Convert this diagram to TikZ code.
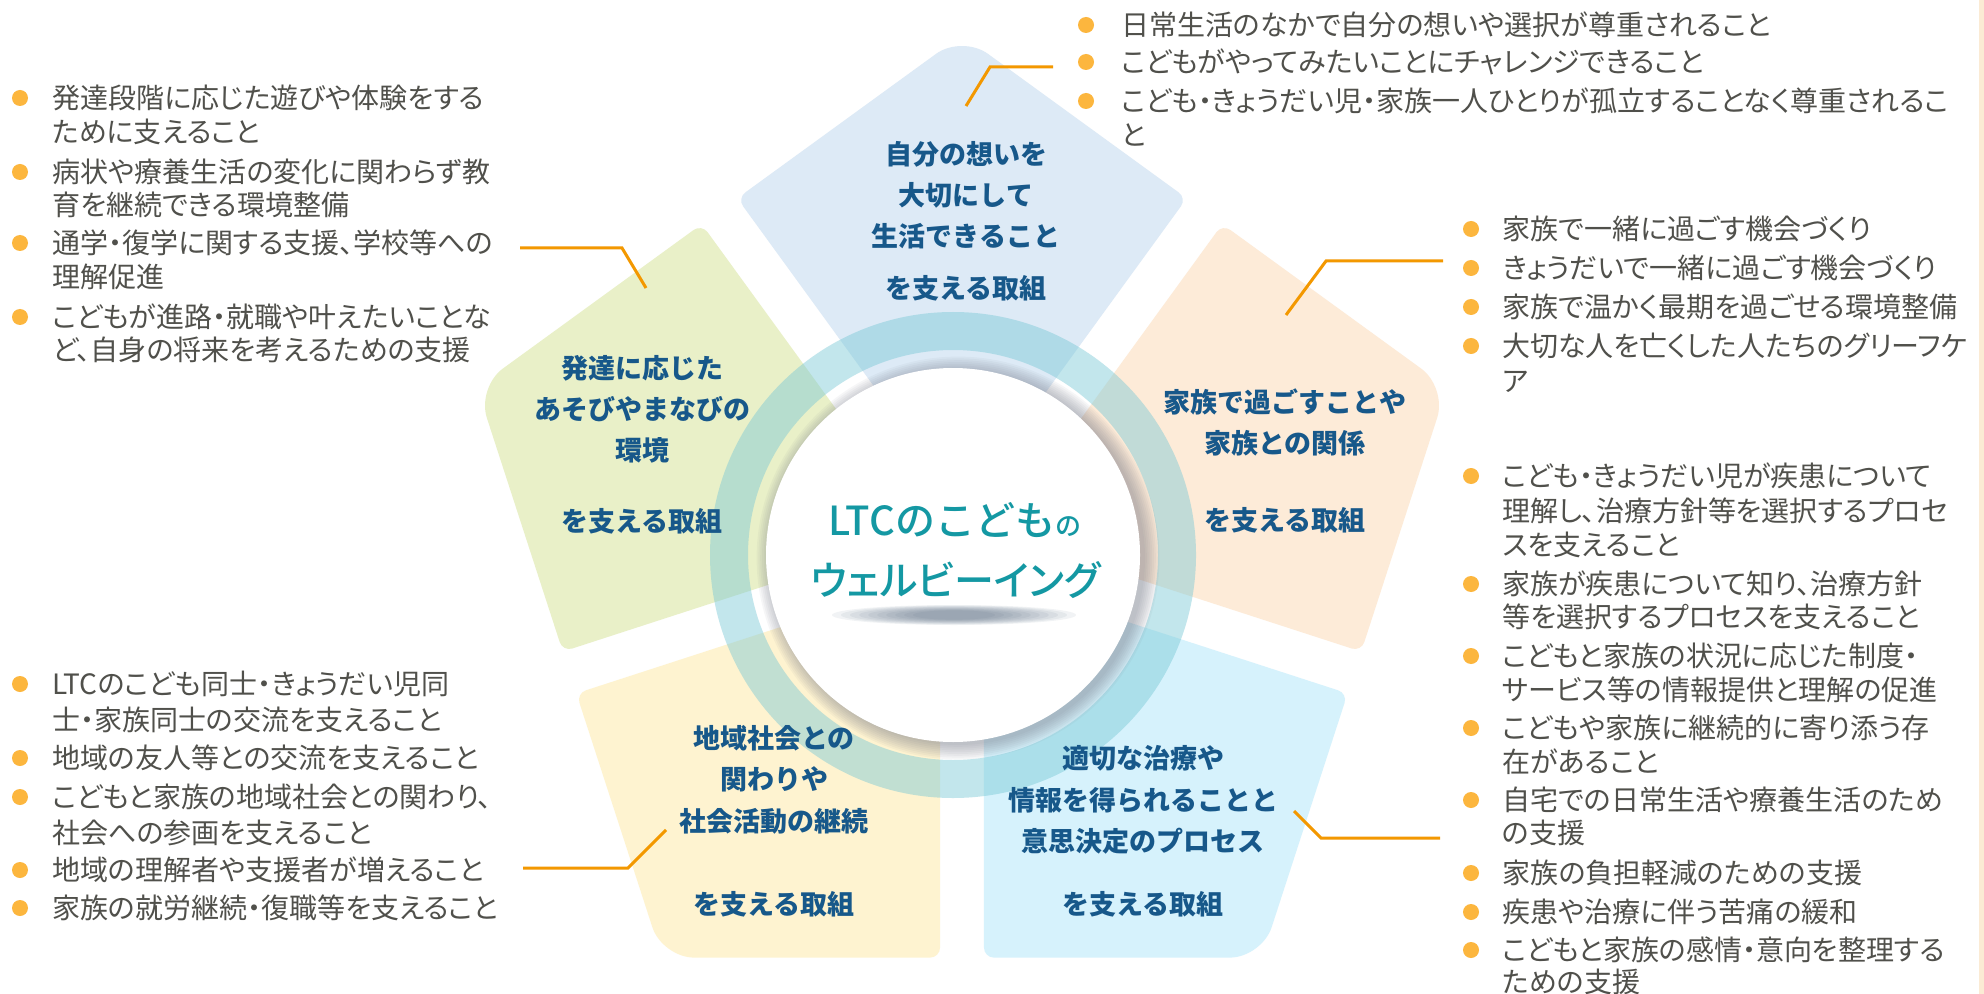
\documentclass[tikz,border=0pt]{standalone}
\usepackage{fontspec}
\newfontfamily\jp{Noto Sans CJK JP}
\newfontfamily\jpp{Noto Sans CJK JP}[RawFeature=+palt]
\newfontfamily\jpm{Noto Sans CJK JP Medium}
\newfontfamily\jpmp{Noto Sans CJK JP Medium}[RawFeature=+palt]
\newcommand{\bodyfont}{\jpp\fontsize{14pt}{17pt}\selectfont}
\newcommand{\lblfont}{\jp\bfseries\fontsize{13.5pt}{16pt}\selectfont}
\definecolor{ptop}{RGB}{221,234,246}
\definecolor{pleft}{RGB}{233,240,200}
\definecolor{pright}{RGB}{253,235,216}
\definecolor{pbl}{RGB}{254,243,208}
\definecolor{pbr}{RGB}{214,242,252}
\definecolor{ringc}{RGB}{120,200,214}
\definecolor{shadowc}{RGB}{110,115,130}
\definecolor{tshadow}{RGB}{70,90,115}
\definecolor{lblue}{RGB}{23,88,138}
\definecolor{ctrteal}{RGB}{20,152,163}
\definecolor{bodygray}{RGB}{80,80,75}
\definecolor{bulletc}{RGB}{252,182,62}
\definecolor{connc}{RGB}{243,152,0}
\definecolor{edgec}{RGB}{251,235,212}
\tikzset{
  bodyln/.style={anchor=west, inner sep=0pt, text=bodygray, font=\bodyfont, text height=12.3pt, text depth=1.7pt},
  blt/.style={circle, fill=bulletc, inner sep=0pt, minimum size=8pt},
  lbl/.style={anchor=center, inner sep=0pt, text=lblue, font=\lblfont, text height=11.9pt, text depth=1.6pt},
  ctr/.style={anchor=center, inner sep=0pt, text=ctrteal, text height=17.6pt, text depth=2.4pt},
  conn/.style={draw=connc, line width=1.5pt},
}
\begin{document}
\begin{tikzpicture}[x=0.5pt, y=-0.5pt]
\useasboundingbox (0,0) rectangle (1984,994);
\fill[white] (0,0) rectangle (1984,994);
% pentagon pieces
\begin{scope}[shift={(962,545)}]
\foreach \a/\c in {-90/ptop, 198/pleft, -18/pright, 126/pbl, 54/pbr} {
  \fill[\c, rounded corners=5pt] (\a:37.4) -- ({\a-32.95}:413.2)
     [rounded corners=16pt] -- (\a:510)
     [rounded corners=5pt] -- ({\a+32.95}:413.2) -- cycle;
}
\end{scope}
% ring
\fill[ringc, opacity=0.45, even odd rule] (953,555) circle[radius=121.5pt] (953,555) circle[radius=102.5pt];
% shadow of core
\foreach \i in {0,...,8} {
  \fill[shadowc, opacity=0.06] (958,558) circle[radius={93.5pt+\i*0.9pt}];
}
\node[circle, fill=white, minimum size=187pt, inner sep=0pt] (core) at (953,555) {};
% text shadow
\foreach \i in {0,...,9} {
  \fill[tshadow, opacity=0.07] (954,615) ellipse[x radius={(122-\i*9)*0.5pt}, y radius={(10-\i*0.6)*0.5pt}];
}
\node[ctr, font=\jpm\fontsize{20pt}{24pt}\selectfont] (ct1) at (955,520) {LTCのこども{\fontsize{13pt}{13pt}\selectfont の}};
\node[ctr, font=\jpmp\fontsize{20pt}{24pt}\selectfont] (ct2) at (956,580) {ウェルビーイング};
% piece labels
\node[lbl] (la1) at (966,154) {自分の想いを};
\node[lbl] (la2) at (966,195) {大切にして};
\node[lbl] (la3) at (966,236) {生活できること};
\node[lbl] (la4) at (966,288) {を支える取組};
\node[lbl] (lb1) at (642,368) {発達に応じた};
\node[lbl] (lb2) at (642,409) {あそびやまなびの};
\node[lbl] (lb3) at (642,450) {環境};
\node[lbl] (lb4) at (642,521) {を支える取組};
\node[lbl] (lc1) at (1285,402) {家族で過ごすことや};
\node[lbl] (lc2) at (1285,443) {家族との関係};
\node[lbl] (lc3) at (1285,520) {を支える取組};
\node[lbl] (ld1) at (774,738) {地域社会との};
\node[lbl] (ld2) at (774,779) {関わりや};
\node[lbl] (ld3) at (774,821) {社会活動の継続};
\node[lbl] (ld4) at (774,904) {を支える取組};
\node[lbl] (le1) at (1143,758) {適切な治療や};
\node[lbl] (le2) at (1143,800) {情報を得られることと};
\node[lbl] (le3) at (1143,841) {意思決定のプロセス};
\node[lbl] (le4) at (1143,904) {を支える取組};
% connectors
\coordinate (k1s) at (1053,67); \coordinate (k1m) at (990,67); \coordinate (k1e) at (966,106);
\draw[conn] (k1s) -- (k1m) -- (k1e);
\coordinate (k2s) at (520,248); \coordinate (k2m) at (622,248); \coordinate (k2e) at (646,288);
\draw[conn] (k2s) -- (k2m) -- (k2e);
\coordinate (k3s) at (1443,261); \coordinate (k3m) at (1326,261); \coordinate (k3e) at (1286,315);
\draw[conn] (k3s) -- (k3m) -- (k3e);
\coordinate (k4s) at (1440,838); \coordinate (k4m) at (1321,838); \coordinate (k4e) at (1294,811);
\draw[conn] (k4s) -- (k4m) -- (k4e);
\coordinate (k5s) at (523,868); \coordinate (k5m) at (628,868); \coordinate (k5e) at (666,830);
\draw[conn] (k5s) -- (k5m) -- (k5e);
% top list
\node[blt] (tb1) at (1086,25) {};
\node[bodyln] (tl1) at (1121,25) {日常生活のなかで自分の想いや選択が尊重されること};
\node[blt] (tb2) at (1086,62) {};
\node[bodyln] (tl2) at (1121,62) {こどもがやってみたいことにチャレンジできること};
\node[blt] (tb3) at (1086,101) {};
\node[bodyln] (tl3) at (1121,101) {こども・きょうだい児・家族一人ひとりが孤立することなく尊重されるこ};
\node[bodyln] (tl3b) at (1121,135) {と};
% left top list
\node[blt] (ab1) at (20,98) {};
\node[bodyln] (al1) at (52,98) {発達段階に応じた遊びや体験をする};
\node[bodyln] (al1b) at (52,132) {ために支えること};
\node[blt] (ab2) at (20,172) {};
\node[bodyln] (al2) at (52,172) {病状や療養生活の変化に関わらず教};
\node[bodyln] (al2b) at (52,205) {育を継続できる環境整備};
\node[blt] (ab3) at (20,243) {};
\node[bodyln] (al3) at (52,243) {通学・復学に関する支援、学校等への};
\node[bodyln] (al3b) at (52,277) {理解促進};
\node[blt] (ab4) at (20,317) {};
\node[bodyln] (al4) at (52,317) {こどもが進路・就職や叶えたいことな};
\node[bodyln] (al4b) at (52,350) {ど、自身の将来を考えるための支援};
% right top list
\node[blt] (rb1) at (1471,229) {};
\node[bodyln] (rl1) at (1502,229) {家族で一緒に過ごす機会づくり};
\node[blt] (rb2) at (1471,268) {};
\node[bodyln] (rl2) at (1502,268) {きょうだいで一緒に過ごす機会づくり};
\node[blt] (rb3) at (1471,307) {};
\node[bodyln] (rl3) at (1502,307) {家族で温かく最期を過ごせる環境整備};
\node[blt] (rb4) at (1471,346) {};
\node[bodyln] (rl4) at (1502,346) {大切な人を亡くした人たちのグリーフケ};
\node[bodyln] (rl4b) at (1502,381) {ア};
% right bottom list
\node[blt] (sb1) at (1471,476) {};
\node[bodyln] (sl1) at (1502,476) {こども・きょうだい児が疾患について};
\node[bodyln] (sl1b) at (1502,511) {理解し、治療方針等を選択するプロセ};
\node[bodyln] (sl1c) at (1502,545) {スを支えること};
\node[blt] (sb2) at (1471,584) {};
\node[bodyln] (sl2) at (1502,584) {家族が疾患について知り、治療方針};
\node[bodyln] (sl2b) at (1502,617) {等を選択するプロセスを支えること};
\node[blt] (sb3) at (1471,656) {};
\node[bodyln] (sl3) at (1502,656) {こどもと家族の状況に応じた制度・};
\node[bodyln] (sl3b) at (1502,690) {サービス等の情報提供と理解の促進};
\node[blt] (sb4) at (1471,728) {};
\node[bodyln] (sl4) at (1502,728) {こどもや家族に継続的に寄り添う存};
\node[bodyln] (sl4b) at (1502,762) {在があること};
\node[blt] (sb5) at (1471,800) {};
\node[bodyln] (sl5) at (1502,800) {自宅での日常生活や療養生活のため};
\node[bodyln] (sl5b) at (1502,833) {の支援};
\node[blt] (sb6) at (1471,873) {};
\node[bodyln] (sl6) at (1502,873) {家族の負担軽減のための支援};
\node[blt] (sb7) at (1471,912) {};
\node[bodyln] (sl7) at (1502,912) {疾患や治療に伴う苦痛の緩和};
\node[blt] (sb8) at (1471,950) {};
\node[bodyln] (sl8) at (1502,950) {こどもと家族の感情・意向を整理する};
\node[bodyln] (sl8b) at (1502,982) {ための支援};
% left bottom list
\node[blt] (db1) at (20,684) {};
\node[bodyln] (dl1) at (52,684) {LTCのこども同士・きょうだい児同};
\node[bodyln] (dl1b) at (52,720) {士・家族同士の交流を支えること};
\node[blt] (db2) at (20,758) {};
\node[bodyln] (dl2) at (52,758) {地域の友人等との交流を支えること};
\node[blt] (db3) at (20,797) {};
\node[bodyln] (dl3) at (52,797) {こどもと家族の地域社会との関わり、};
\node[bodyln] (dl3b) at (52,833) {社会への参画を支えること};
\node[blt] (db4) at (20,870) {};
\node[bodyln] (dl4) at (52,870) {地域の理解者や支援者が増えること};
\node[blt] (db5) at (20,908) {};
\node[bodyln] (dl5) at (52,908) {家族の就労継続・復職等を支えること};
% right edge strip
\fill[edgec] (1979,0) rectangle (1984,994);
\end{tikzpicture}
\end{document}
